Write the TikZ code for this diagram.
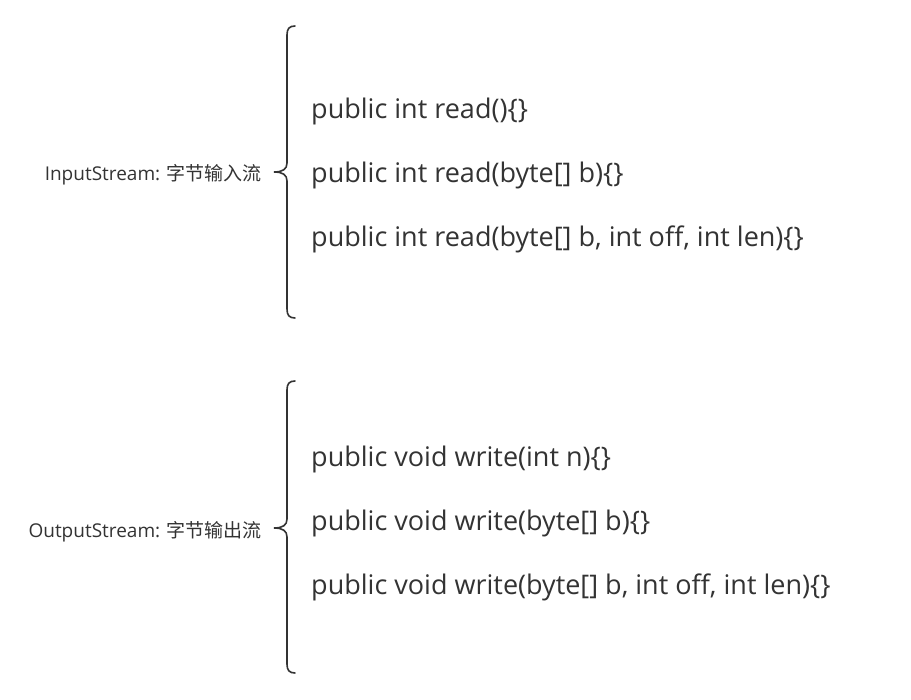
\documentclass[tikz,border=0pt]{standalone}
\usepackage{fontspec}
\setmainfont{Open Sans}
\newfontfamily\cjk{Noto Sans CJK SC}
\definecolor{ink}{HTML}{333333}
\begin{document}
\begin{tikzpicture}[x=1pt,y=-1pt,
  method/.style={anchor=west,inner sep=0pt,text=ink,font=\fontsize{27}{30}\selectfont},
  label/.style={anchor=east,inner sep=0pt,text=ink,font=\fontsize{19}{22}\selectfont},
  brace/.style={draw=ink,line width=1.6pt,line cap=round}]
\useasboundingbox (0,0) rectangle (911,700);
% group 1
\node[label] (in) at (262,175) {InputStream: {\cjk 字节输入流}};
\node[method] (r1) at (311,111) {public int read()\{\}};
\node[method] (r2) at (311,175) {public int read(byte[] b)\{\}};
\node[method] (r3) at (311,239) {public int read(byte[] b, int off, int len)\{\}};
\coordinate (b1t) at (295,26);
\coordinate (b1m) at (274,172);
\coordinate (b1b) at (295,318);
\draw[brace] (b1t) .. controls (289,26) and (287,29) .. (287,35) -- (287,163)
  .. controls (287,169) and (283,172) .. (b1m)
  .. controls (283,172) and (287,175) .. (287,181) -- (287,309)
  .. controls (287,315) and (289,318) .. (b1b);
% group 2
\node[label] (out) at (262,532) {OutputStream: {\cjk 字节输出流}};
\node[method] (w1) at (311,459) {public void write(int n)\{\}};
\node[method] (w2) at (311,523) {public void write(byte[] b)\{\}};
\node[method] (w3) at (311,587) {public void write(byte[] b, int off, int len)\{\}};
\coordinate (b2t) at (295,381);
\coordinate (b2m) at (274,528);
\coordinate (b2b) at (295,673);
\draw[brace] (b2t) .. controls (289,381) and (287,384) .. (287,390) -- (287,519)
  .. controls (287,525) and (283,528) .. (b2m)
  .. controls (283,528) and (287,531) .. (287,537) -- (287,664)
  .. controls (287,670) and (289,673) .. (b2b);
\end{tikzpicture}
\end{document}
